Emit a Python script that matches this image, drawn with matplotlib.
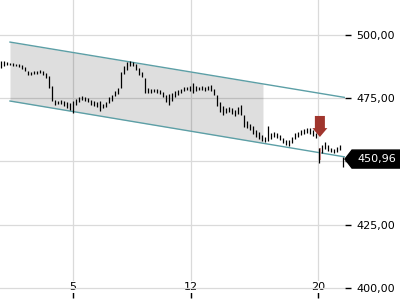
import numpy as np
import matplotlib
matplotlib.use('Agg')
import matplotlib.pyplot as plt
from matplotlib.ticker import FuncFormatter
from matplotlib.transforms import blended_transform_factory

# hourly bars, high / low
highs = [489.7, 489.7, 489.3, 488.9, 488.9, 488.5, 488.5, 488.1, 487.4, 485.8,
         485.4, 485.8, 485.8, 486.2, 485.8, 485.0, 483.8, 479.8, 474.3, 473.9,
         474.3, 473.9, 473.5, 473.1, 473.9, 474.7, 475.5, 475.9, 475.5, 475.1,
         474.3, 473.9, 473.5, 473.9, 472.7, 473.5, 475.5, 476.3, 477.9, 479.1,
         485.4, 487.7, 489.3, 489.7, 489.3, 488.5, 487.0, 485.4, 483.0, 479.1,
         478.7, 478.7, 478.7, 478.3, 477.5, 476.3, 476.7, 477.1, 477.9, 478.3,
         478.7, 479.4, 479.4, 479.8, 481.0, 479.8, 479.4, 479.8, 479.4, 479.8,
         480.2, 478.7, 476.3, 473.5, 471.9, 471.1, 471.5, 471.1, 470.4, 471.5,
         472.3, 468.4, 466.0, 464.8, 464.0, 462.5, 461.7, 460.5, 459.7, 464.0,
         461.3, 461.7, 461.3, 460.5, 459.3, 458.5, 458.5, 459.7, 461.3, 461.7,
         462.5, 462.8, 463.2, 463.2, 462.5, 461.3, 455.3, 456.5, 457.7, 456.5,
         455.3, 454.9, 455.7, 456.5, 451.8]
lows = [487.0, 487.7, 488.1, 488.1, 487.7, 487.7, 487.4, 486.6, 485.8, 484.2,
        484.2, 484.6, 484.6, 485.0, 484.2, 483.0, 479.1, 473.9, 472.3, 472.7,
        472.7, 471.9, 471.1, 470.4, 469.2, 472.3, 473.5, 474.3, 473.9, 473.5,
        472.3, 471.9, 471.5, 470.0, 471.1, 471.5, 473.1, 473.9, 475.9, 476.7,
        479.1, 484.6, 486.2, 487.7, 487.7, 486.2, 484.2, 483.4, 477.1, 477.1,
        477.1, 477.5, 477.1, 476.7, 475.5, 473.5, 472.3, 473.9, 475.5, 476.3,
        477.1, 477.9, 478.3, 477.9, 477.1, 477.9, 478.3, 478.3, 477.9, 478.3,
        477.9, 476.3, 471.9, 469.6, 468.4, 469.2, 469.6, 468.8, 468.0, 468.8,
        468.4, 463.6, 463.2, 462.5, 460.9, 459.7, 458.9, 458.1, 457.7, 458.1,
        458.9, 459.7, 459.3, 458.5, 457.3, 456.5, 456.1, 457.3, 458.9, 459.7,
        460.5, 460.9, 461.3, 460.9, 460.1, 459.3, 449.4, 453.4, 454.9, 454.2,
        453.8, 453.4, 453.8, 454.5, 447.8]
last_price = 450.96

day_ticks = [24, 63.3, 105.7]
day_labels = ['5', '12', '20']
y_ticks = [400, 425, 450, 475, 500]

# trend channel (start index, end index, prices)
chan_x = [3, 114.67]
chan_upper = [497.2, 475.3]
chan_lower = [473.9, 451.8]
shade_end = 87.33

signal_idx = 106.3
gap_lo, gap_hi = 450.6, 455.3

idx = np.arange(len(highs))

fig = plt.figure(figsize=(4, 3), dpi=100)
ax = fig.add_axes([0, 2 / 300, 345 / 400, 298 / 300])
ax.set_xlim(-0.33, 114.67)
ax.set_ylim(396.05, 513.83)

ax.grid(True, color='#dadada', lw=0.9)
ax.set_axisbelow(True)
for s in ax.spines.values():
    s.set_visible(False)

# shaded part of the channel
sx = np.array([chan_x[0], shade_end])
su = np.interp(sx, chan_x, chan_upper)
sl = np.interp(sx, chan_x, chan_lower)
ax.fill_between(sx, sl, su, color='black', alpha=0.13, lw=0, zorder=1)
ax.plot(chan_x, chan_upper, color='#5c9fa6', lw=1, zorder=2)
ax.plot(chan_x, chan_lower, color='#5c9fa6', lw=1, zorder=2)

# gap marker + arrow
ax.fill_between([signal_idx - 0.35, signal_idx + 0.35], gap_lo, gap_hi,
                color='#e89a9a', lw=0, zorder=2)
ax.fill([signal_idx - 1.67, signal_idx + 1.67, signal_idx + 1.67, signal_idx + 2.5,
         signal_idx, signal_idx - 2.5, signal_idx - 1.67],
        [468.0, 468.0, 463.2, 463.2, 459.7, 463.2, 463.2],
        color='#a0352d', lw=0, zorder=4)

ax.vlines(idx, lows, highs, color='black', lw=0.9, zorder=3)

# y axis on the right; the 450 label sits under the price tag
ax.yaxis.tick_right()
ax.set_yticks(y_ticks, ['' if v == 450 else f'{v:.2f}'.replace('.', ',') for v in y_ticks])
ax.tick_params(axis='y', length=4, width=1, pad=4, labelsize=8, colors='black')

ax.set_xticks(day_ticks, day_labels)
ax.tick_params(axis='x', direction='in', length=4, width=1, pad=-11.5, labelsize=8)
for lbl in ax.get_xticklabels():
    lbl.set_bbox(dict(facecolor='white', edgecolor='none', pad=1))

# last price tag
tr = blended_transform_factory(fig.transFigure, ax.transData)
h = 9 / 2.53
ax.fill([345 / 400, 352 / 400, 1, 1, 352 / 400],
        [last_price, last_price + h, last_price + h, last_price - h, last_price - h],
        color='black', transform=tr, clip_on=False, zorder=5)
ax.text(357 / 400, last_price, f'{last_price:.2f}'.replace('.', ','), color='white',
        fontsize=8, va='center', ha='left', transform=tr, zorder=6)

fig.savefig('out.png', dpi=100)
